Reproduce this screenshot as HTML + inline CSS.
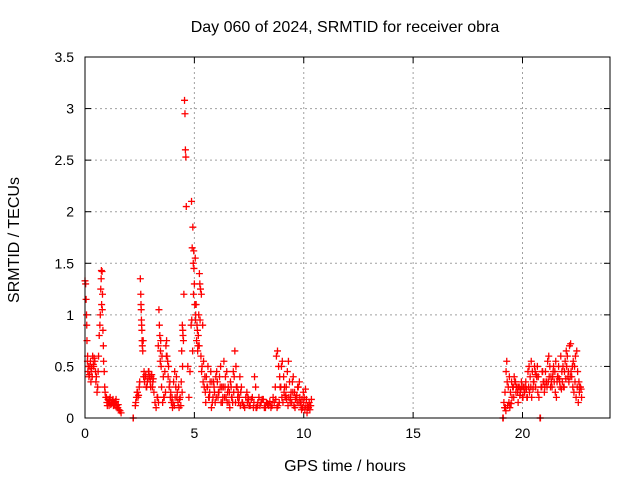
<!DOCTYPE html>
<html><head><meta charset="utf-8"><style>
body{margin:0;background:#fff}
svg{display:block;font-family:"Liberation Sans",sans-serif}
</style></head><body>
<svg id="chart" width="640" height="480">
<text x="345" y="32" font-size="16" text-anchor="middle">Day 060 of 2024, SRMTID for receiver obra</text>
<text x="345" y="471" font-size="16" text-anchor="middle">GPS time / hours</text>
<text transform="translate(19,240) rotate(-90)" font-size="16" text-anchor="middle">SRMTID / TECUs</text>
<g id="grid"></g><g id="ticks"></g><g id="marks"></g>
<rect x="85" y="57" width="525" height="361" fill="none" stroke="#000" stroke-width="1"/>
</svg>
<script>
const xTicks=[0,5,10,15,20];
const xTickLabels=["0","5","10","15","20"];
const yTicks=[0,0.5,1,1.5,2,2.5,3,3.5];
const yTickLabels=["0","0.5","1","1.5","2","2.5","3","3.5"];
const hours=[
0,0.03,0.05,0.07,0.09,0.11,0.13,0.15,0.2,0.25,0.3,0.35,0.4,0.45,0.5,0.55,0.6,0.65,0.7,0.72,0.75,0.78,0.8,0.82,0.85,0.88,0.9,0.95,1.0,1.05,1.1,1.15,1.2,1.25,1.3,1.35,1.4,1.45,1.5,1.55,1.6,1.65,0.58,0.62,0.27,0.33,
2.2,2.21,
2.3,2.35,2.4,2.45,2.5,2.53,2.55,2.57,2.58,2.6,2.62,2.64,2.66,2.7,2.75,2.8,2.85,2.9,2.95,3.0,3.05,3.1,3.15,3.2,3.25,3.3,3.35,3.38,3.4,3.42,3.45,3.48,3.5,3.55,3.6,3.65,3.7,3.73,3.75,3.8,3.85,3.9,3.95,4.0,4.05,4.1,4.15,4.2,4.25,4.3,4.35,4.4,4.42,4.45,4.47,4.5,4.52,4.55,4.57,4.59,4.61,4.63,4.7,4.75,4.8,4.85,4.87,4.9,4.93,4.95,4.97,5.0,5.02,5.05,5.08,5.1,5.12,5.15,5.18,5.2,5.23,5.25,5.28,5.3,5.33,5.35,5.4,5.45,5.5,5.55,5.6,5.65,5.7,5.75,5.8,5.85,5.9,5.95,6.0,6.05,6.1,6.15,6.2,6.25,6.3,6.35,6.4,6.45,6.5,6.55,6.6,6.65,6.7,6.75,6.8,6.85,6.9,6.95,7.0,7.05,7.1,7.2,7.3,7.4,7.45,7.5,7.6,7.7,7.75,7.8,7.85,7.9,8.0,8.1,8.2,8.3,8.4,8.5,8.6,8.7,8.75,8.8,8.85,8.9,8.95,9.0,9.05,9.1,9.15,9.2,9.25,9.3,9.35,9.4,9.45,9.5,9.55,9.6,9.65,9.7,9.75,9.8,9.85,9.9,9.95,10.0,10.05,10.1,10.15,10.2,10.25,10.3,10.35,
5.52,5.62,5.78,6.02,6.22,6.42,6.62,6.78,7.02,7.15,
19.1,19.12,19.15,19.2,19.22,19.25,19.28,19.3,19.35,19.4,19.45,19.5,19.55,19.6,19.65,19.7,19.75,19.8,19.85,19.9,19.95,20.0,20.05,20.1,20.15,20.2,20.25,20.3,20.35,20.4,20.45,20.5,20.55,20.6,20.65,20.7,20.75,20.8,20.82,20.85,20.9,20.95,21.0,21.05,21.1,21.15,21.2,21.25,21.3,21.35,21.4,21.45,21.5,21.55,21.6,21.65,21.7,21.75,21.8,21.85,21.9,21.95,22.0,22.05,22.1,22.15,22.2,22.25,22.3,22.35,22.4,22.45,22.5,22.55,22.6,22.65,22.7
];
const srmtid=[
1.33,1.30,1.15,1.0,0.75,0.55,0.45,0.5,0.42,0.55,0.48,0.6,0.5,0.55,0.35,0.25,0.45,0.8,1.0,1.25,1.43,1.42,1.2,0.85,0.55,0.45,0.3,0.2,0.15,0.18,0.12,0.2,0.14,0.17,0.12,0.15,0.16,0.12,0.1,0.08,0.07,0.05,0.3,0.6,0.35,0.4,
0.0,0.0,
0.12,0.2,0.25,0.22,0.35,1.35,1.2,1.05,0.95,0.85,0.7,0.65,0.75,0.45,0.4,0.3,0.35,0.45,0.4,0.3,0.42,0.35,0.25,0.15,0.1,0.2,0.7,1.05,0.9,0.8,0.65,0.5,0.3,0.15,0.2,0.45,0.7,0.75,0.6,0.4,0.3,0.2,0.15,0.1,0.35,0.45,0.3,0.2,0.15,0.1,0.2,0.35,0.65,0.9,0.85,0.75,1.2,3.08,2.95,2.6,2.53,2.05,0.5,0.2,0.45,0.9,2.1,1.65,1.85,1.5,1.62,1.3,1.1,0.95,1.1,0.75,0.9,0.65,0.8,1.0,1.4,1.3,1.25,0.6,0.45,0.5,0.35,0.3,0.25,0.4,0.3,0.2,0.25,0.45,0.35,0.2,0.3,0.15,0.2,0.35,0.25,0.4,0.5,0.3,0.2,0.55,0.3,0.2,0.15,0.3,0.25,0.35,0.2,0.15,0.25,0.65,0.5,0.3,0.25,0.2,0.12,0.15,0.1,0.25,0.2,0.12,0.18,0.1,0.4,0.3,0.1,0.15,0.12,0.18,0.1,0.15,0.12,0.1,0.2,0.3,0.6,0.65,0.5,0.4,0.3,0.2,0.15,0.25,0.2,0.3,0.45,0.55,0.35,0.2,0.15,0.25,0.12,0.1,0.2,0.15,0.3,0.35,0.15,0.08,0.1,0.15,0.08,0.12,0.05,0.1,0.15,0.12,0.18,
0.15,0.5,0.1,0.45,0.15,0.4,0.1,0.45,0.15,0.3,
0.0,0.0,0.15,0.25,0.1,0.45,0.55,0.35,0.3,0.4,0.25,0.35,0.3,0.2,0.35,0.25,0.3,0.15,0.3,0.25,0.35,0.2,0.3,0.25,0.35,0.2,0.45,0.5,0.4,0.55,0.45,0.35,0.5,0.3,0.4,0.25,0.2,0.0,0.0,0.3,0.45,0.35,0.25,0.45,0.35,0.55,0.6,0.5,0.4,0.3,0.45,0.35,0.25,0.2,0.4,0.5,0.35,0.6,0.45,0.5,0.3,0.55,0.65,0.6,0.45,0.7,0.72,0.4,0.3,0.25,0.35,0.2,0.3,0.15,0.25,0.3,0.2
];
const extraHours=[
0.08,0.12,0.18,0.22,0.28,0.38,0.42,0.48,0.52,0.68,0.74,0.76,0.79,0.84,0.92,0.98,1.02,1.08,1.12,1.18,1.22,1.28,1.32,1.38,1.42,1.48,1.52,
2.32,2.38,2.42,2.48,2.56,2.59,2.61,2.68,2.72,2.78,2.82,2.88,2.92,2.98,3.02,3.08,3.12,3.32,3.36,3.44,3.46,3.52,3.58,3.62,3.68,3.72,3.78,3.82,3.88,3.92,3.98,4.02,4.08,4.12,4.18,4.22,4.28,4.32,4.38,4.44,4.46,4.48,4.88,4.92,4.96,4.98,5.04,5.06,5.14,5.16,5.22,5.26,5.32,5.38,5.42,5.48,5.58,5.68,5.72,5.82,5.88,5.92,5.98,6.08,6.12,6.18,6.28,6.32,6.38,6.48,6.52,6.58,6.68,6.72,6.82,6.88,6.92,6.98,7.08,7.12,7.18,7.25,7.35,7.42,7.48,7.55,7.65,7.72,7.82,7.88,7.95,8.05,8.15,8.25,8.35,8.45,8.55,8.65,8.72,8.78,8.82,8.88,8.92,8.98,9.02,9.08,9.12,9.18,9.22,9.28,9.32,9.38,9.42,9.48,9.52,9.58,9.62,9.68,9.72,9.78,9.82,9.88,9.92,9.98,10.02,10.08,10.12,10.18,10.22,10.28,10.32,
19.18,19.24,19.32,19.38,19.42,19.48,19.52,19.58,19.62,19.68,19.72,19.78,19.82,19.88,19.92,19.98,20.02,20.08,20.12,20.18,20.22,20.28,20.32,20.38,20.42,20.48,20.52,20.58,20.62,20.68,20.72,20.88,20.92,20.98,21.02,21.08,21.12,21.18,21.22,21.28,21.32,21.38,21.42,21.48,21.52,21.58,21.62,21.68,21.72,21.78,21.82,21.88,21.92,21.98,22.02,22.08,22.12,22.18,22.22,22.28,22.32,22.38,22.42,22.48,22.52,22.58,22.62,22.68
];
const extraSrmtid=[
0.9,0.6,0.4,0.5,0.45,0.52,0.58,0.45,0.4,0.9,1.35,1.1,1.05,0.7,0.25,0.2,0.12,0.15,0.18,0.13,0.15,0.18,0.14,0.12,0.18,0.1,0.13,
0.15,0.25,0.2,0.3,1.1,0.9,0.75,0.4,0.35,0.42,0.3,0.38,0.45,0.35,0.4,0.3,0.38,0.2,0.15,0.55,0.75,0.6,0.4,0.2,0.25,0.6,0.55,0.5,0.35,0.25,0.2,0.15,0.12,0.2,0.4,0.25,0.3,0.18,0.12,0.25,0.5,0.8,0.95,0.65,1.2,1.45,1.55,1.0,0.85,0.7,0.7,0.95,1.2,0.9,0.55,0.4,0.3,0.2,0.35,0.15,0.35,0.25,0.4,0.2,0.25,0.3,0.15,0.3,0.2,0.45,0.25,0.15,0.3,0.2,0.4,0.15,0.3,0.2,0.4,0.25,0.15,0.12,0.2,0.15,0.18,0.12,0.2,0.15,0.1,0.12,0.2,0.15,0.18,0.1,0.14,0.16,0.12,0.15,0.18,0.1,0.12,0.15,0.3,0.5,0.55,0.4,0.3,0.22,0.18,0.12,0.2,0.15,0.25,0.35,0.4,0.25,0.18,0.22,0.3,0.15,0.2,0.12,0.18,0.25,0.2,0.28,0.18,0.12,0.1,0.08,0.12,0.1,0.07,0.12,0.15,0.1,0.14,
0.2,0.3,0.4,0.35,0.3,0.25,0.3,0.22,0.28,0.3,0.2,0.25,0.3,0.28,0.2,0.3,0.25,0.3,0.2,0.28,0.35,0.45,0.42,0.5,0.4,0.3,0.45,0.35,0.3,0.35,0.3,0.35,0.4,0.3,0.35,0.4,0.5,0.45,0.55,0.35,0.4,0.38,0.3,0.28,0.35,0.3,0.45,0.38,0.5,0.4,0.35,0.4,0.45,0.5,0.55,0.5,0.6,0.65,0.45,0.35,0.3,0.28,0.32,0.22,0.3,0.25,0.3,0.25
];
const NS="http://www.w3.org/2000/svg";
const X0=85,X1=610,Y0=418,Y1=57,XMAX=24,YMAX=3.5;
function xs(h){return X0+(X1-X0)*h/XMAX;}
function ys(v){return Y0-(Y0-Y1)*v/YMAX;}
function mk(tag,attrs,parent){const e=document.createElementNS(NS,tag);for(const k in attrs)e.setAttribute(k,attrs[k]);parent.appendChild(e);return e;}
const grid=document.getElementById('grid'),ticks=document.getElementById('ticks'),marks=document.getElementById('marks');
xTicks.forEach((t,i)=>{
  const x=xs(t);
  if(t>0){const g=mk('line',{x1:x,y1:Y1,x2:x,y2:Y0,stroke:'#a0a0a0','stroke-dasharray':'2,3'},grid);
  
  }
  mk('line',{x1:x,y1:Y0,x2:x,y2:Y0-6,stroke:'#000'},ticks);
  mk('line',{x1:x,y1:Y1,x2:x,y2:Y1+6,stroke:'#000'},ticks);
  const l=mk('text',{x:x,y:Y0+20,'font-size':14,'text-anchor':'middle'},ticks);
  l.textContent=xTickLabels[i];
  
  
});
yTicks.forEach((t,i)=>{
  const y=ys(t);
  if(t>0&&t<YMAX){const g=mk('line',{x1:X0,y1:y,x2:X1,y2:y,stroke:'#a0a0a0','stroke-dasharray':'2,3'},grid);
  
  }
  mk('line',{x1:X0,y1:y,x2:X0+6,y2:y,stroke:'#000'},ticks);
  mk('line',{x1:X1,y1:y,x2:X1-6,y2:y,stroke:'#000'},ticks);
  const l=mk('text',{x:X0-11,y:y+5,'font-size':14,'text-anchor':'end'},ticks);
  l.textContent=yTickLabels[i];
  
  
});
function plus(h,v){
  const x=xs(h),y=ys(v);
  const p=mk('path',{d:`M${x-3.5},${y}H${x+3.5}M${x},${y-3.5}V${y+3.5}`,stroke:'#ff0000','stroke-width':1.3,fill:'none'},marks);
  
  
}
hours.forEach((h,i)=>plus(h,srmtid[i]));
extraHours.forEach((h,i)=>plus(h,extraSrmtid[i]));
</script>
</body></html>
